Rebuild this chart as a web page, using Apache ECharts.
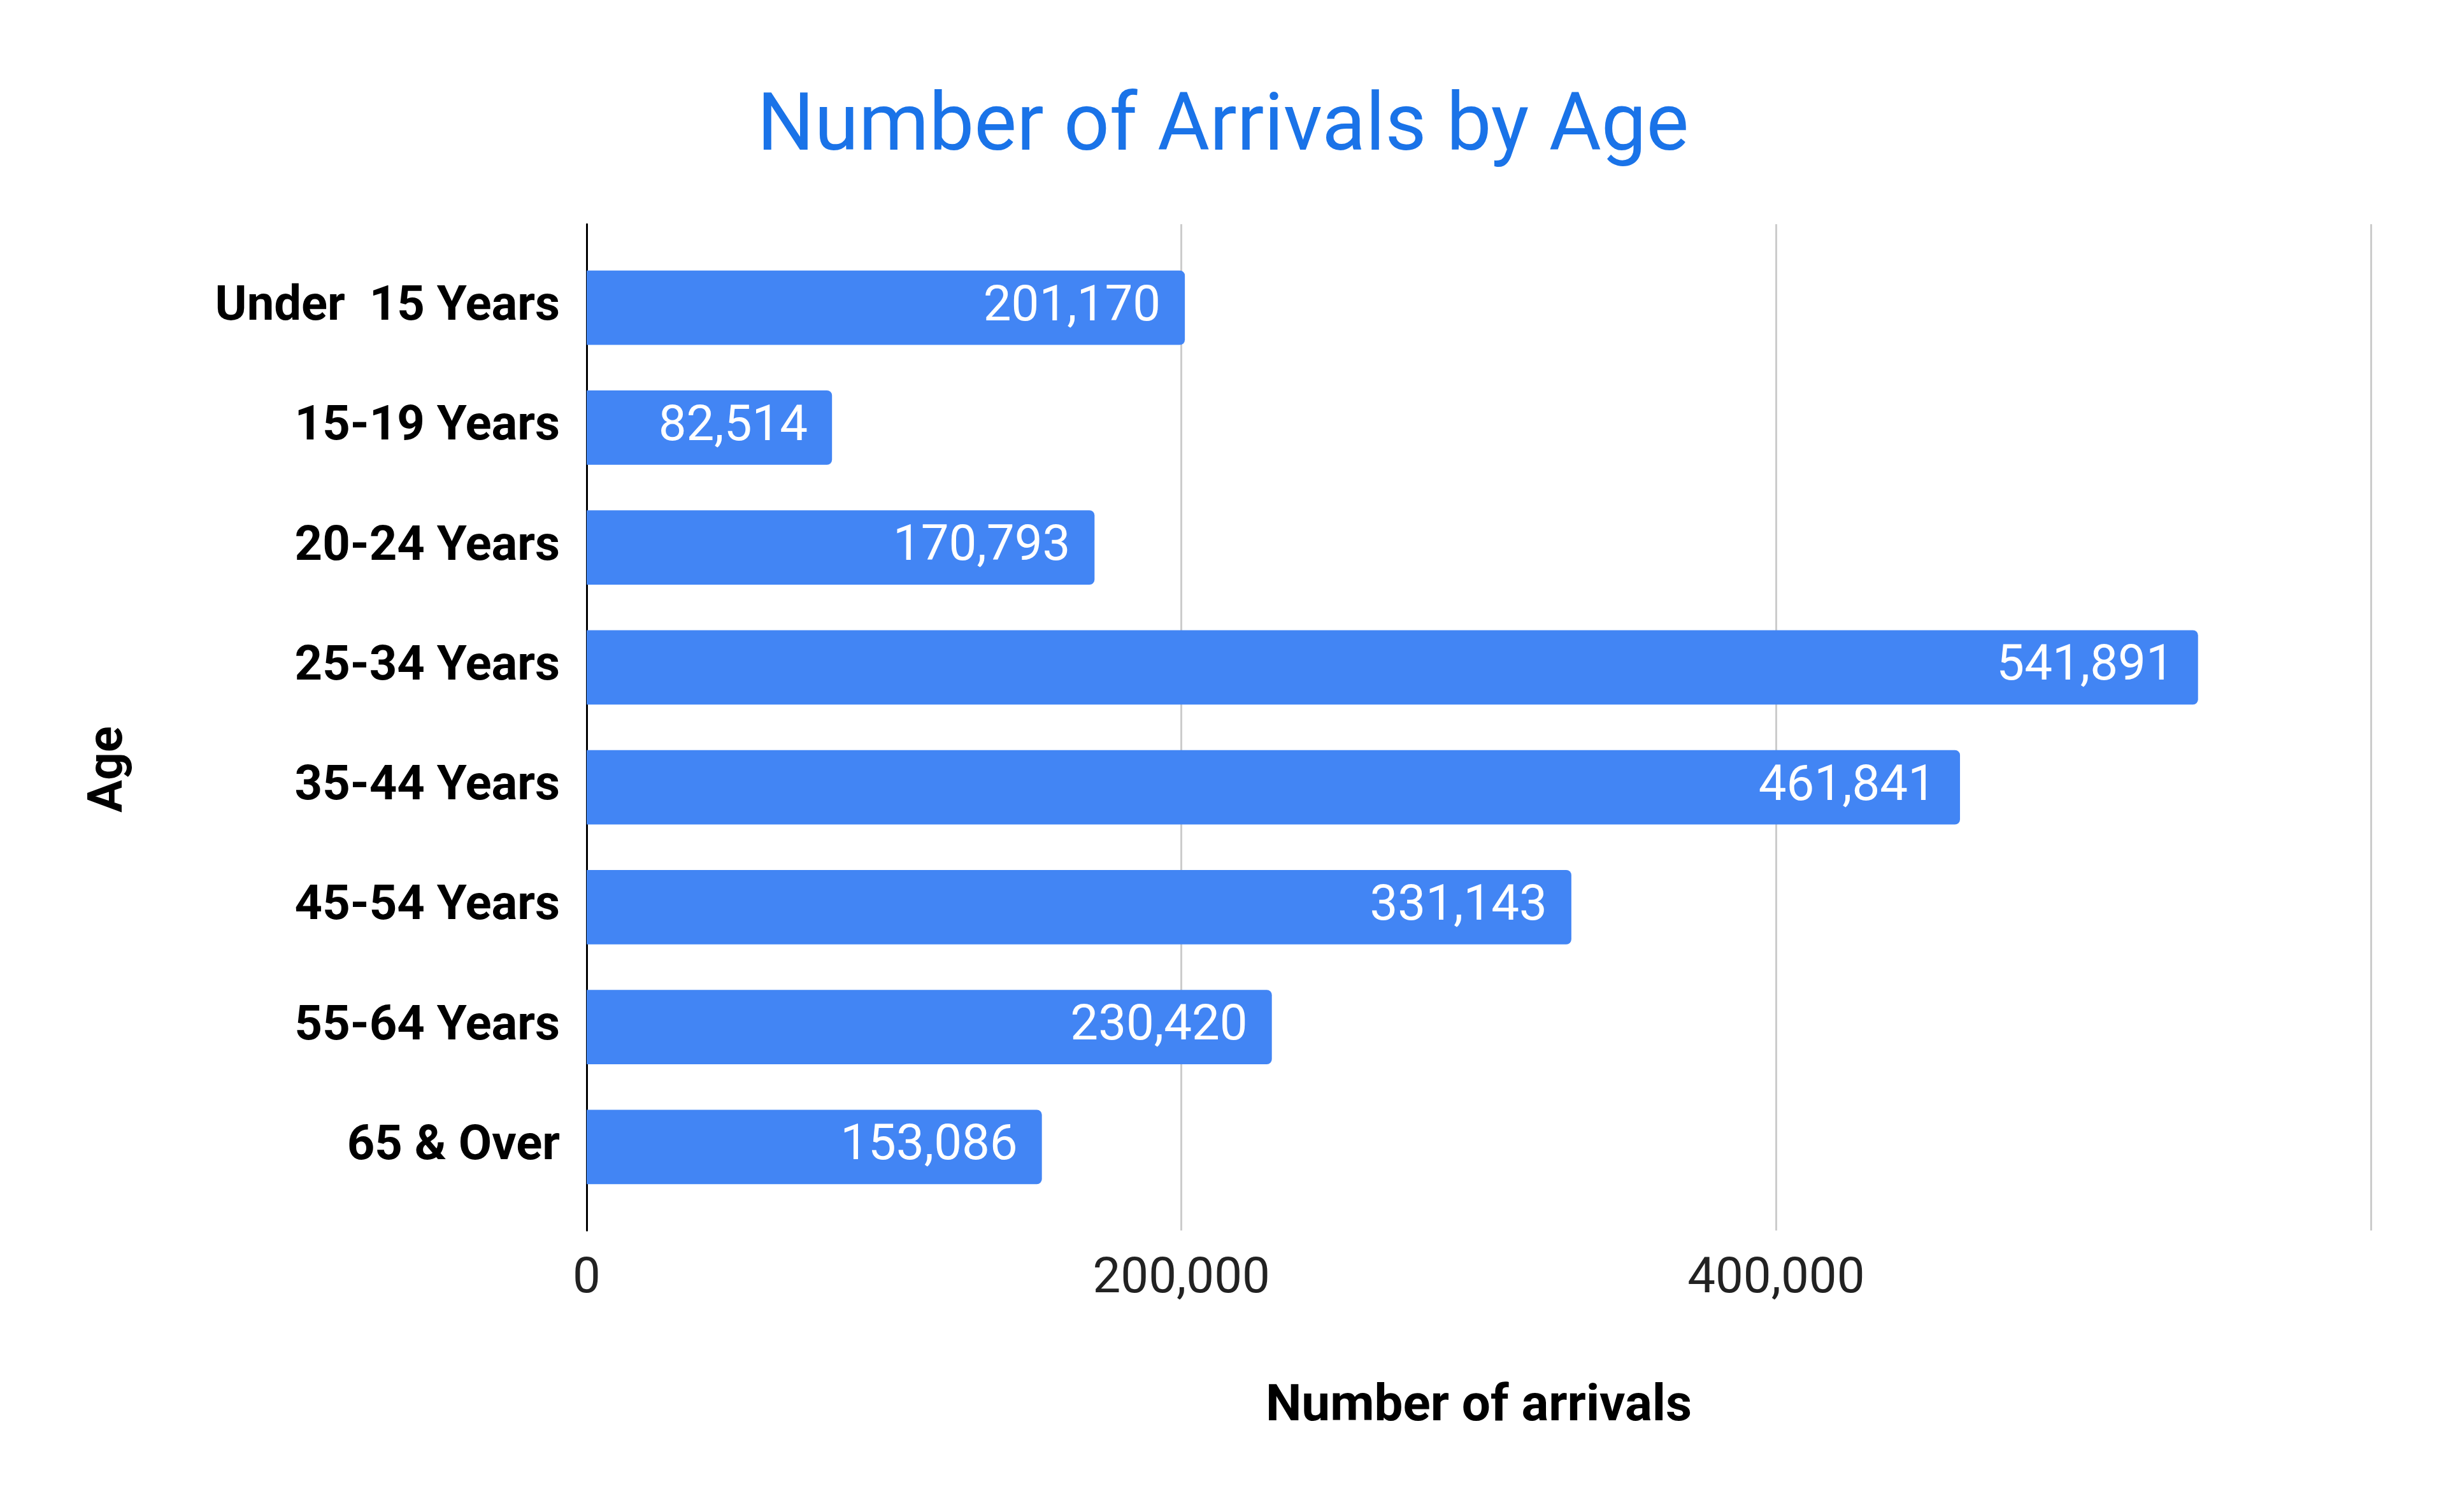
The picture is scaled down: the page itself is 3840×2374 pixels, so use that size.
<!DOCTYPE html>
<html>
<head>
<meta charset="utf-8">
<title>Number of Arrivals by Age</title>
<script src="https://cdn.jsdelivr.net/npm/echarts@6/dist/echarts.min.js"></script>
<style>
  html, body { margin: 0; padding: 0; background: #fff; }
  #chart { width: 3840px; height: 2374px; }
</style>
</head>
<body>
<div id="chart"></div>
<script>
// age groups, top to bottom as shown
var ageGroups = ['Under  15 Years', '15-19 Years', '20-24 Years', '25-34 Years',
                 '35-44 Years', '45-54 Years', '55-64 Years', '65 & Over'];
var arrivals = [201170, 82514, 170793, 541891, 461841, 331143, 230420, 153086];
var xTicks = [0, 200000, 400000, 600000];

var fmt = function (v) {
  return String(v).replace(/\B(?=(\d{3})+(?!\d))/g, ',');
};

var chart = echarts.init(document.getElementById('chart'));

// grid 0 carries the gridlines, tick labels and the black baseline,
// grid 1 (a bit shorter) holds the bars and category labels
var gl = 921, gr = 118;

chart.setOption({
  backgroundColor: '#ffffff',
  textStyle: { fontFamily: 'Roboto' },
  title: {
    text: 'Number of Arrivals by Age',
    left: 'center',
    top: 135,
    textStyle: { color: '#1a73e8', fontSize: 126, fontWeight: 'normal', fontFamily: 'Roboto' }
  },
  grid: [
    { left: gl, right: gr, top: 352, bottom: 442 },
    { left: gl, right: gr, top: 389, bottom: 479 }
  ],
  xAxis: [{
    type: 'value',
    gridIndex: 0,
    min: xTicks[0],
    max: xTicks[xTicks.length - 1],
    interval: xTicks[1] - xTicks[0],
    name: 'Number of arrivals',
    nameLocation: 'middle',
    nameGap: 238,
    nameTextStyle: { color: '#000', fontSize: 80, fontWeight: 'bold' },
    axisLine: { show: false },
    axisTick: { show: false },
    axisLabel: {
      color: '#222', fontSize: 78, margin: 38, showMaxLabel: false,
      formatter: function (v) { return fmt(v); }
    },
    splitLine: { lineStyle: { color: '#cccccc', width: 3 } }
  }, {
    type: 'value',
    gridIndex: 1,
    min: xTicks[0],
    max: xTicks[xTicks.length - 1],
    interval: xTicks[1] - xTicks[0],
    show: false
  }],
  yAxis: [{
    type: 'value',
    gridIndex: 0,
    axisLine: { show: true, onZero: false, lineStyle: { color: '#000', width: 3 } },
    axisTick: { show: false },
    axisLabel: { show: false },
    splitLine: { show: false }
  }, {
    type: 'category',
    gridIndex: 1,
    data: ageGroups,
    inverse: true,
    axisLine: { show: false },
    axisTick: { show: false },
    axisLabel: { color: '#000', fontSize: 76, fontWeight: 'bold', margin: 42 }
  }],
  graphic: [{
    type: 'text',
    x: 172,
    y: 1208,
    rotation: Math.PI / 2,
    style: {
      text: 'Age',
      fill: '#000',
      font: 'bold 76px Roboto',
      align: 'center',
      verticalAlign: 'middle'
    }
  }],
  series: [{
    type: 'bar',
    xAxisIndex: 1,
    yAxisIndex: 1,
    data: arrivals,
    barCategoryGap: '38%',
    itemStyle: { color: '#4285f4', borderRadius: [0, 8, 8, 0] },
    label: {
      show: true,
      position: 'insideRight',
      distance: 38,
      color: '#ffffff',
      fontSize: 78,
      formatter: function (p) { return fmt(p.value); }
    }
  }]
});
</script>
</body>
</html>
